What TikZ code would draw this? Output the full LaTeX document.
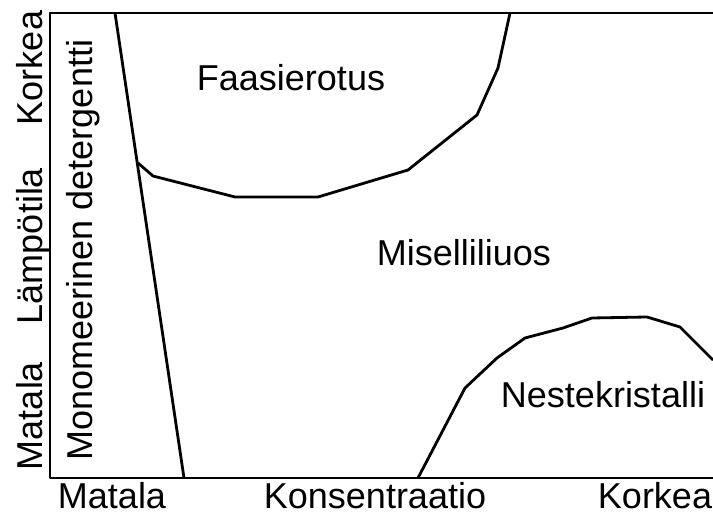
\documentclass[tikz,border=0pt]{standalone}
\usepackage{fontspec}
\setmainfont{Liberation Sans}
\usetikzlibrary{positioning}
\begin{document}
\begin{tikzpicture}[x=0.5pt, y=-0.5pt,
  lbl/.style={inner sep=0pt, anchor=center, text height=12.9pt, text depth=0pt,
              font=\fontsize{18}{21.6}\selectfont},
  vlbl/.style={lbl, rotate=90},
  bnd/.style={line width=1.4pt, line join=round, black}]
\useasboundingbox (0,0) rectangle (713,513);
% frame
\draw[bnd] (713,13) -- (50,13) -- (50,478) -- (713,478);
% phase boundaries
\draw[bnd] (115,13) -- (184,478);
\draw[bnd] (138,163) -- (153,176) -- (235,197) -- (318,197) -- (408,170)
  -- (477,115) -- (498,68) -- (510,13);
\draw[bnd] (418,478) -- (465,388) -- (497,358) -- (525,338) -- (563,328)
  -- (592,318) -- (647,317) -- (680,327) -- (713,360);
% regions
\node[lbl] (faas) at (291,78)  {Faasierotus};
\node[lbl] (mis)  at (464,253) {Miselliliuos};
\node[lbl] (nest) at (603,395) {Nestekristalli};
\node[vlbl] (mono) at (80,250) {Monomeerinen detergentti};
% axes
\node[lbl] (xlo)  at (112,496) {Matala};
\node[lbl] (xlab) at (375,496) {Konsentraatio};
\node[lbl] (xhi)  at (655,496) {Korkea};
\node[vlbl] (ylo)  at (29.5,416) {Matala};
\node[vlbl] (ylab) at (29.5,246) {Lämpötila};
\node[vlbl] (yhi)  at (29.5,68)  {Korkea};
\end{tikzpicture}
\end{document}
